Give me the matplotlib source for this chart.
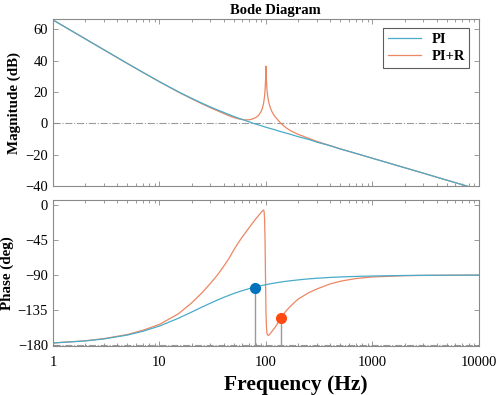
import matplotlib
matplotlib.use("Agg")
import matplotlib.pyplot as plt
from matplotlib.ticker import LogLocator, NullFormatter, FixedLocator

# PI loop
freq_pi = [1, 2, 3, 5, 7, 10, 15, 20, 25, 30, 35, 40, 45, 50, 55, 60, 65, 70, 75, 80,
           90, 100, 110, 120, 130, 150, 170, 200, 250, 300, 400, 500, 700, 1000,
           2000, 3000, 5000, 7000, 10000]
mag_pi = [66.0, 54.0, 47.0, 38.2, 32.5, 26.6, 20.2, 16.0, 12.9, 10.5, 8.6, 7.0, 5.6, 4.4, 3.3,
          2.5, 1.6, 0.9, 0.1, -0.4, -1.5, -2.5, -3.3, -4.0, -4.8, -6.0, -7.0, -8.5, -10.2,
          -12.0, -14.3, -16.4, -19.2, -22.3, -28.3, -31.8, -36.3, -39.2, -42.3]
phase_pi = [-177.4, -174.8, -172.2, -167.2, -162.3, -155.6, -145.7, -137.7, -131.3, -126.3,
            -122.2, -118.8, -116.1, -113.7, -111.8, -110.1, -108.7, -107.4, -106.3, -105.4,
            -103.7, -102.4, -101.3, -100.4, -99.6, -98.3, -97.4, -96.3, -95.0, -94.2,
            -93.1, -92.5, -91.8, -91.3, -90.6, -90.4, -90.25, -90.2, -90.1]

# PI + resonant loop
freq_pir = [1, 2, 3, 5, 7, 10, 15, 20, 25, 30, 35, 40, 45, 50, 55, 60, 65, 70, 75, 80,
            84, 87, 90, 92, 94, 95, 96, 97, 98, 99, 100, 101, 102, 103, 104, 106, 108, 110,
            113, 116, 120, 125, 130, 137, 145, 155, 170, 200, 250, 300, 400, 500, 700,
            1000, 2000, 3000, 5000, 7000, 10000]
mag_pir = [66.0, 54.0, 47.0, 38.2, 32.5, 26.5, 20.0, 15.7, 12.5, 10.0, 8.0, 6.3, 4.8, 3.7, 2.9,
           2.4, 2.2, 2.3, 2.8, 3.7, 4.7, 5.9, 7.6, 9.2, 11.5, 13.0, 15.0, 17.5, 21.0, 27.0,
           36.5, 27.5, 22.0, 19.0, 16.8, 13.8, 11.6, 9.8, 7.9, 6.4, 4.8, 3.3, 2.0, 0.2, -1.3,
           -2.9, -4.7, -7.0, -9.5, -11.5, -14.2, -16.3, -19.2, -22.3, -28.3, -31.8, -36.3,
           -39.2, -42.3]
phase_pir = [-177.4, -174.6, -171.8, -166.5, -161.0, -153.5, -140.0, -126.0, -113.0, -101.0,
             -90.0, -79.0, -68.5, -57.5, -48.5, -41.0, -34.5, -28.5, -23.0, -18.0,
             -14.5, -12.0, -9.5, -8.0, -6.8, -6.5, -8.5, -18.0, -45.0, -95.0,
             -138.0, -157.0, -164.0, -166.5, -167.5, -167.5, -166.5, -165.0, -163.0, -161.0,
             -158.5, -155.0, -151.0, -145.5, -141.0, -136.0, -130.0, -121.0, -113.0, -108.0,
             -101.5, -98.0, -94.5, -92.5, -90.9, -90.5, -90.3, -90.2, -90.1]

# crossover markers on the phase plot
cross_freq = [79, 137]
cross_phase = [-106.5, -145.5]
cross_colors = ["#0072BD", "#FF4B12"]

mag_ticks = [-40, -20, 0, 20, 40, 60]
phase_ticks = [0, -45, -90, -135, -180]
freq_ticks = [1, 10, 100, 1000, 10000]
freq_labels = ["1", "10", "100", "1000", "10000"]

c_pi = "#4AABC8"
c_pir = "#EC8663"
spine_c = "#8a8a8a"

plt.rcParams["font.family"] = ["Liberation Serif", "DejaVu Serif"]

fig = plt.figure(figsize=(4.98, 3.95), dpi=100)
ax1 = fig.add_axes([0.1064, 0.5291, 0.8554, 0.422])
ax2 = fig.add_axes([0.1064, 0.1240, 0.8554, 0.3696])

for ax in (ax1, ax2):
    ax.set_xscale("log")
    ax.set_xlim(1, 10000)
    ax.xaxis.set_major_locator(FixedLocator(freq_ticks))
    ax.xaxis.set_minor_locator(LogLocator(base=10, subs=range(2, 10), numticks=20))
    ax.xaxis.set_minor_formatter(NullFormatter())
    ax.tick_params(which="both", direction="in", top=True, right=True,
                   color=spine_c, labelsize=10.5, width=0.6)
    ax.tick_params(which="major", length=3.5)
    ax.tick_params(which="minor", length=2)
    for s in ax.spines.values():
        s.set_color(spine_c)
        s.set_linewidth(0.8)

# magnitude
ax1.axhline(0, color="#9a9a9a", lw=0.8, ls="-.", zorder=1)
ax1.plot(freq_pi, mag_pi, color=c_pi, lw=0.9, label="PI", zorder=3)
ax1.plot(freq_pir, mag_pir, color=c_pir, lw=0.9, label="PI+R", zorder=2)
ax1.set_ylim(-40, 66.4)
ax1.set_yticks(mag_ticks)
ax1.set_xticklabels([])
ax1.set_ylabel("Magnitude (dB)", fontsize=10.8, fontweight="bold", labelpad=3)
ax1.set_title("Bode Diagram", fontsize=10.5, fontweight="bold", pad=4, x=0.521)
leg = ax1.legend(loc="upper right", bbox_to_anchor=(0.977, 0.946), borderaxespad=0,
                 frameon=True, fancybox=False, edgecolor="#333333", handlelength=2.3,
                 borderpad=0.3, labelspacing=0.3, handletextpad=0.7,
                 prop={"weight": "bold", "size": 10.5})
leg.get_frame().set_linewidth(0.8)

# phase
ax2.axhline(-180, color="#9a9a9a", lw=0.8, ls="-.", zorder=1)
ax2.plot(freq_pi, phase_pi, color=c_pi, lw=0.9, zorder=3)
ax2.plot(freq_pir, phase_pir, color=c_pir, lw=0.9, zorder=2)
for f, p, c in zip(cross_freq, cross_phase, cross_colors):
    ax2.plot([f, f], [-181.3, p], color="#9a9a9a", lw=1.0, zorder=2)
    ax2.plot(f, p, "o", color=c, ms=7, zorder=4)
ax2.set_ylim(-181.3, 6.4)
ax2.set_yticks(phase_ticks)
ax2.set_xticklabels(freq_labels)
ax2.set_ylabel("Phase (deg)", fontsize=10.8, fontweight="bold", labelpad=3)
ax2.set_xlabel("Frequency (Hz)", fontsize=15.5, fontweight="bold")
ax2.xaxis.set_label_coords(0.570, -0.20)
ax2.tick_params(axis="x", pad=7)

fig.savefig("out.png", dpi=100)
